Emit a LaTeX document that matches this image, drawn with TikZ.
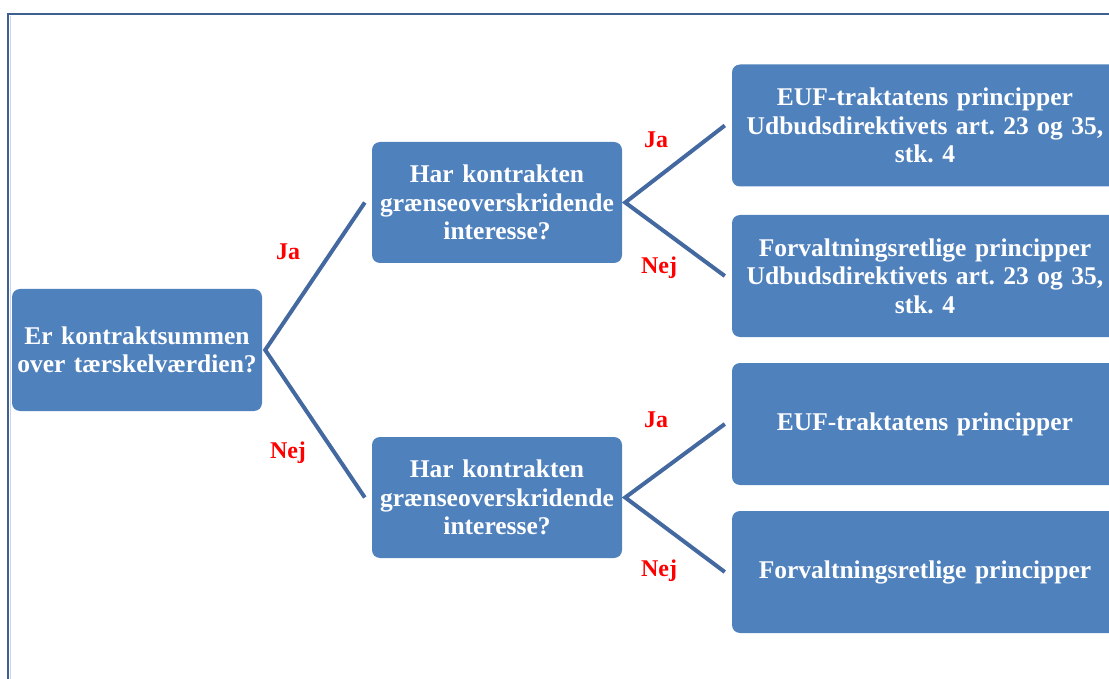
\documentclass[tikz,border=0pt]{standalone}
\usepackage{fontspec}
\setmainfont{Liberation Serif}
\definecolor{boxblue}{HTML}{4F81BD}
\definecolor{linkblue}{HTML}{4369A0}
\definecolor{framedark}{HTML}{3E5F92}
\definecolor{framelight}{HTML}{C6D5EC}
\begin{document}
\frenchspacing
\begin{tikzpicture}[x=1pt,y=-1pt,
  box/.style={rounded corners=8pt, fill=boxblue, draw=none, text=white,
    font=\bfseries\fontsize{25.5}{28.5}\selectfont, align=center, inner sep=0pt},
  midbox/.style={box, minimum width=250pt, minimum height=121pt, text width=250pt},
  endbox/.style={box, minimum width=386pt, minimum height=122pt, text width=384pt},
  link/.style={draw=linkblue, line width=4pt},
  answer/.style={text=red, font=\bfseries\fontsize{24}{26}\selectfont}]
\useasboundingbox (0,0) rectangle (1109,679);
\clip (0,0) rectangle (1109,679);
% frame
\draw[framelight, line width=1pt] (10.5,16) -- (10.5,679);
\draw[framedark, line width=2pt] (8,679) -- (8,14) -- (1109,14);
% nodes
\node[box, minimum width=250pt, minimum height=122pt, text width=250pt] (root) at (137,350) {Er kontraktsummen\\over tærskelværdien?};
\node[midbox] (mt) at (497,202.5) {Har kontrakten\\grænseoverskridende\\interesse?};
\node[midbox] (mb) at (497,497.5) {Har kontrakten\\grænseoverskridende\\interesse?};
\node[endbox] (e1) at (925,125.5) {EUF-traktatens principper\\Udbudsdirektivets art. 23 og 35,\\stk. 4};
\node[endbox] (e2) at (925,276) {Forvaltningsretlige principper\\Udbudsdirektivets art. 23 og 35,\\stk. 4};
\node[endbox] (e3) at (925,424) {EUF-traktatens principper};
\node[endbox] (e4) at (925,572) {Forvaltningsretlige principper};
% connectors
\draw[link] ([xshift=-7pt]mt.west) -- ([xshift=3pt]root.east) -- ([xshift=-7pt]mb.west);
\draw[link] ([xshift=-7pt]e1.west) -- ([xshift=3pt]mt.east) -- ([xshift=-7pt]e2.west);
\draw[link] ([xshift=-7pt]e3.west) -- ([xshift=3pt]mb.east) -- ([xshift=-7pt]e4.west);
% labels
\node[answer] (l1) at (288,252) {Ja};
\node[answer] (l2) at (288,453) {Nej};
\node[answer] (l3) at (656,140) {Ja};
\node[answer] (l4) at (659,268) {Nej};
\node[answer] (l5) at (656,420) {Ja};
\node[answer] (l6) at (659,571) {Nej};
\end{tikzpicture}
\end{document}
